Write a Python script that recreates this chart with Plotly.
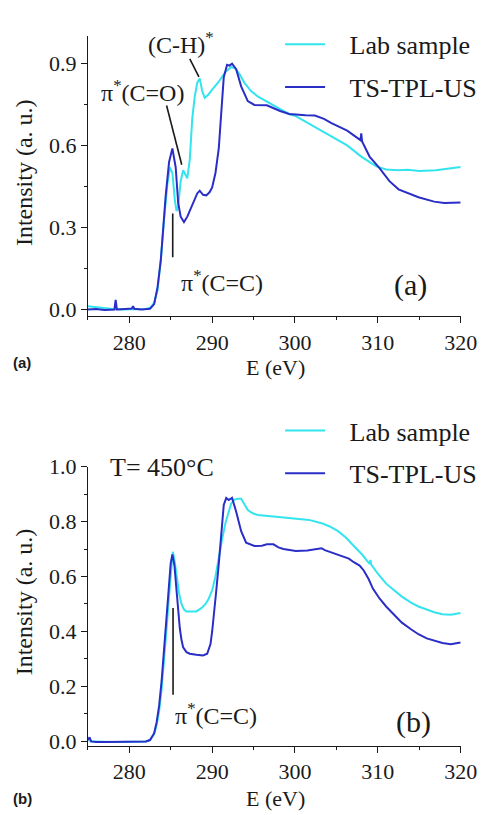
import plotly.graph_objects as go

# ---------------- Data ----------------
# Panel (a)
lab_a_E = [275.0, 276.0, 277.0, 278.0, 279.0, 280.0, 281.0, 282.0, 282.6, 283.0, 283.4, 283.8,
           284.2, 284.6, 284.9, 285.2, 285.5, 285.7, 285.9, 286.2, 286.5, 286.8, 287.0, 287.3,
           287.6, 287.9, 288.2, 288.5, 288.8, 289.1, 289.5, 290.0, 290.8, 291.6, 292.3, 292.8,
           293.3, 293.9, 294.7, 295.5, 297.0, 299.3, 300.1, 302.0, 304.0, 306.3, 308.0, 309.8,
           311.0, 312.5, 313.6, 315.0, 317.0, 318.5, 320.0]
lab_a_I = [0.012, 0.008, 0.004, 0.002, 0.0, 0.0, 0.0, 0.002, 0.008, 0.025, 0.07, 0.18,
           0.33, 0.46, 0.52, 0.50, 0.40, 0.36, 0.38, 0.47, 0.51, 0.49, 0.48, 0.55,
           0.70, 0.78, 0.83, 0.846, 0.80, 0.775, 0.785, 0.805, 0.834, 0.870, 0.888, 0.882,
           0.862, 0.83, 0.80, 0.78, 0.755, 0.715, 0.708, 0.675, 0.638, 0.601, 0.56, 0.524,
           0.513, 0.51, 0.512, 0.507, 0.51, 0.515, 0.522]

ts_a_E = [275.0, 276.0, 277.0, 278.0, 278.2, 278.35, 278.5, 279.5, 280.3, 280.45, 280.6, 281.5,
          282.5, 283.0, 283.4, 283.8, 284.1, 284.4, 284.8, 285.2, 285.6, 285.9, 286.2, 286.6,
          287.0, 287.7, 288.2, 288.5, 288.9, 289.3, 289.7, 290.0, 290.4, 290.8, 291.1, 291.4,
          291.8, 292.1, 292.4, 292.9, 293.5, 294.3, 295.1, 296.6, 298.2, 299.3, 301.3, 302.4,
          303.5, 304.4, 306.3, 307.4, 307.9, 308.0, 308.1, 309.0, 310.2, 311.4, 312.2, 312.5,
          314.9, 316.8, 318.0, 320.0]
ts_a_I = [0.0, 0.002, -0.002, 0.0, 0.0, 0.035, 0.0, 0.002, 0.004, 0.012, 0.003, 0.0,
          0.003, 0.02, 0.08, 0.18, 0.30, 0.42, 0.54, 0.59, 0.52, 0.39, 0.34, 0.32,
          0.34, 0.39, 0.425, 0.435, 0.42, 0.418, 0.43, 0.447, 0.50, 0.59, 0.72, 0.85,
          0.896, 0.893, 0.90, 0.88, 0.817, 0.763, 0.749, 0.748, 0.727, 0.716, 0.711, 0.710,
          0.698, 0.682, 0.655, 0.632, 0.62, 0.645, 0.615, 0.56, 0.518, 0.47, 0.446, 0.44,
          0.411, 0.395, 0.39, 0.392]

# Panel (b)
lab_b_E = [275.0, 275.3, 276.0, 277.0, 278.0, 279.0, 280.0, 281.0, 282.0, 282.5, 283.0, 283.3,
           283.6, 283.9, 284.2, 284.5, 284.8, 285.05, 285.25, 285.45, 285.7, 286.0, 286.3, 286.6,
           286.9, 287.5, 288.1, 288.7, 289.2, 289.6, 290.0, 290.4, 290.8, 291.2, 291.6, 292.0,
           292.3, 292.7, 293.1, 293.5, 293.9, 294.3, 294.9, 295.5, 297.4, 300.1, 301.7, 303.2,
           304.2, 305.2, 306.2, 307.1, 308.1, 309.0, 309.1, 309.2, 310.0, 311.0, 312.0, 312.9,
           314.0, 314.9, 315.9, 316.8, 317.8, 318.8, 320.0]
lab_b_I = [0.01, 0.0, 0.0, -0.002, -0.002, -0.002, -0.002, -0.002, 0.0, 0.005, 0.027, 0.06,
           0.11, 0.19, 0.29, 0.41, 0.53, 0.64, 0.69, 0.66, 0.60, 0.54, 0.50, 0.48,
           0.473, 0.472, 0.473, 0.485, 0.50, 0.52, 0.55, 0.60, 0.67, 0.735, 0.794, 0.84,
           0.866, 0.88, 0.883, 0.883, 0.86, 0.842, 0.83, 0.824, 0.818, 0.812, 0.806, 0.794,
           0.782, 0.765, 0.74, 0.711, 0.68, 0.646, 0.66, 0.643, 0.61, 0.574, 0.548, 0.527,
           0.505, 0.491, 0.48, 0.47, 0.463, 0.461, 0.467]

ts_b_E = [275.0, 275.2, 275.4, 276.0, 277.0, 278.0, 279.0, 280.0, 281.0, 282.0, 282.5, 283.0,
          283.3, 283.6, 283.9, 284.2, 284.5, 284.8, 285.0, 285.2, 285.45, 285.7, 285.9, 286.1,
          286.3, 286.5, 286.9, 287.3, 288.1, 288.9, 289.4, 289.8, 290.0, 290.2, 290.5, 290.8,
          291.1, 291.4, 291.7, 292.0, 292.4, 292.7, 292.9, 293.2, 293.5, 294.1, 295.1, 296.0,
          296.6, 297.4, 298.0, 298.6, 300.1, 301.5, 303.2, 303.6, 304.5, 305.6, 306.5, 307.1,
          307.8, 308.3, 308.9, 309.4, 310.2, 311.0, 312.0, 312.9, 314.0, 314.9, 315.9, 316.8,
          317.8, 318.8, 320.0]
ts_b_I = [0.005, 0.015, 0.0, -0.002, -0.002, -0.002, -0.002, -0.002, -0.002, 0.0, 0.005, 0.03,
          0.07, 0.13, 0.22, 0.33, 0.45, 0.57, 0.65, 0.68, 0.64, 0.55, 0.47, 0.41,
          0.37, 0.342, 0.325, 0.319, 0.315, 0.313, 0.319, 0.354, 0.40, 0.455, 0.55, 0.646,
          0.76, 0.86, 0.886, 0.878, 0.886, 0.86, 0.836, 0.80, 0.765, 0.723, 0.711, 0.712,
          0.717, 0.717, 0.706, 0.70, 0.693, 0.695, 0.703, 0.696, 0.686, 0.675, 0.665, 0.652,
          0.64, 0.622, 0.59, 0.556, 0.52, 0.491, 0.46, 0.432, 0.408, 0.39, 0.375, 0.366,
          0.358, 0.354, 0.36]

series_names = ["Lab sample", "TS-TPL-US"]
x_ticks = [280, 290, 300, 310, 320]
y_ticks_a = [0.0, 0.3, 0.6, 0.9]
y_ticks_b = [0.0, 0.2, 0.4, 0.6, 0.8, 1.0]

# ---------------- Styles ----------------
CYAN = "#33E4EE"
BLUE = "#2A2EC6"
SERIF = "Liberation Serif"
SANS = "Liberation Sans"
INK = "#1a1a1a"
GAP = "\u00a0\u00a0\u00a0"

fig = go.Figure()
fig.add_trace(go.Scatter(x=lab_a_E, y=lab_a_I, mode="lines", name=GAP + series_names[0],
                         line=dict(color=CYAN, width=2), xaxis="x", yaxis="y",
                         legend="legend", legendgroup="a1"))
fig.add_trace(go.Scatter(x=ts_a_E, y=ts_a_I, mode="lines", name=GAP + series_names[1],
                         line=dict(color=BLUE, width=2), xaxis="x", yaxis="y",
                         legend="legend", legendgroup="a2"))
fig.add_trace(go.Scatter(x=lab_b_E, y=lab_b_I, mode="lines", name=GAP + series_names[0],
                         line=dict(color=CYAN, width=2), xaxis="x2", yaxis="y2",
                         legend="legend2", legendgroup="b1"))
fig.add_trace(go.Scatter(x=ts_b_E, y=ts_b_I, mode="lines", name=GAP + series_names[1],
                         line=dict(color=BLUE, width=2), xaxis="x2", yaxis="y2",
                         legend="legend2", legendgroup="b2"))

W, H = 497, 815
xdom = [91 / W, 477 / W]
ydom_a = [1 - 312 / H, 1 - 25 / H]
ydom_b = [1 - 752 / H, 1 - 466 / H]

tickfont = dict(family=SERIF, size=22, color=INK)

def xaxis_cfg(anchor):
    return dict(domain=xdom, range=[275, 320], anchor=anchor, showline=True,
                linecolor=INK, linewidth=1.2, ticks="outside", ticklen=6, tickwidth=1.2,
                tickcolor=INK, tickvals=x_ticks, ticktext=[str(v) for v in x_ticks],
                minor=dict(ticks="outside", ticklen=3, tickwidth=1.2, tickcolor=INK,
                           dtick=5, tick0=275),
                showgrid=False, zeroline=False, tickfont=tickfont, fixedrange=True)

def yaxis_cfg(dom, rng, ticks, minor_dt, anchor):
    return dict(domain=dom, range=rng, anchor=anchor, showline=True,
                linecolor=INK, linewidth=1.2, ticks="outside", ticklen=6, tickwidth=1.2,
                tickcolor=INK, tickvals=ticks, ticktext=["%.1f" % v for v in ticks],
                minor=dict(ticks="outside", ticklen=3, tickwidth=1.2, tickcolor=INK,
                           dtick=minor_dt, tick0=0),
                showgrid=False, zeroline=False, tickfont=tickfont, fixedrange=True)

legend_common = dict(font=dict(family=SERIF, size=26, color=INK), bgcolor="rgba(0,0,0,0)",
                     traceorder="grouped", tracegroupgap=6, itemwidth=40,
                     xanchor="left", yanchor="top")

fig.update_layout(
    width=W, height=H, margin=dict(l=0, r=0, t=0, b=0),
    paper_bgcolor="white", plot_bgcolor="white", showlegend=True,
    xaxis=xaxis_cfg("y"),
    yaxis=yaxis_cfg(ydom_a, [-0.025, 1.0], y_ticks_a, 0.15, "x"),
    xaxis2=xaxis_cfg("y2"),
    yaxis2=yaxis_cfg(ydom_b, [-0.015, 1.0], y_ticks_b, 0.1, "x2"),
    legend=dict(x=290 / W, y=1 - 9 / H, **legend_common),
    legend2=dict(x=290 / W, y=1 - 405 / H, **legend_common),
)

ann_font = dict(family=SERIF, size=24, color=INK)
annotations = [
    # panel (a)
    dict(x=286.2, y=0.975, xref="x", yref="y", text="(C-H)<sup>*</sup>", font=ann_font),
    dict(x=281.6, y=0.80, xref="x", yref="y", text="π<sup>*</sup>(C=O)", font=ann_font),
    dict(x=291.2, y=0.105, xref="x", yref="y", text="π<sup>*</sup>(C=C)", font=ann_font),
    dict(x=314.0, y=0.09, xref="x", yref="y", text="(a)", font=dict(family=SERIF, size=30, color=INK)),
    # panel (b)
    dict(x=283.9, y=0.995, xref="x2", yref="y2", text="T= 450°C", font=dict(family=SERIF, size=26, color=INK)),
    dict(x=290.5, y=0.10, xref="x2", yref="y2", text="π<sup>*</sup>(C=C)", font=ann_font),
    dict(x=314.3, y=0.07, xref="x2", yref="y2", text="(b)", font=dict(family=SERIF, size=30, color=INK)),
    # axis titles
    dict(x=285 / W, y=1 - 364 / H, xref="paper", yref="paper", text="E (eV)",
         font=dict(family=SERIF, size=22, color=INK)),
    dict(x=285 / W, y=1 - 806 / H, xref="paper", yref="paper", text="E (eV)",
         font=dict(family=SERIF, size=22, color=INK)),
    dict(x=25 / W, y=1 - 165 / H, xref="paper", yref="paper", text="Intensity (a. u.)",
         textangle=-90, font=dict(family=SERIF, size=24, color=INK)),
    dict(x=25 / W, y=1 - 605 / H, xref="paper", yref="paper", text="Intensity (a. u.)",
         textangle=-90, font=dict(family=SERIF, size=24, color=INK)),
    # panel labels
    dict(x=23 / W, y=1 - 359 / H, xref="paper", yref="paper", text="<b>(a)</b>",
         font=dict(family=SANS, size=15, color=INK)),
    dict(x=23 / W, y=1 - 806 / H, xref="paper", yref="paper", text="<b>(b)</b>",
         font=dict(family=SANS, size=15, color=INK)),
]
for a in annotations:
    a.setdefault("showarrow", False)
    a.setdefault("xanchor", "center")
    a.setdefault("yanchor", "middle")
    fig.add_annotation(**a)

line_style = dict(color=INK, width=1.6)
shapes = [
    dict(type="line", xref="x", yref="y", x0=287.3, y0=0.918, x1=288.4, y1=0.852, line=line_style),
    dict(type="line", xref="x", yref="y", x0=284.5, y0=0.747, x1=286.33, y1=0.53, line=line_style),
    dict(type="line", xref="x", yref="y", x0=285.24, y0=0.352, x1=285.24, y1=0.191, line=line_style),
    dict(type="line", xref="x2", yref="y2", x0=285.28, y0=0.485, x1=285.28, y1=0.17, line=line_style),
]
for s in shapes:
    fig.add_shape(**s)

fig.write_html("out.html", config={"displayModeBar": False},
               post_script="document.body.style.margin='0';document.body.style.padding='0';")
